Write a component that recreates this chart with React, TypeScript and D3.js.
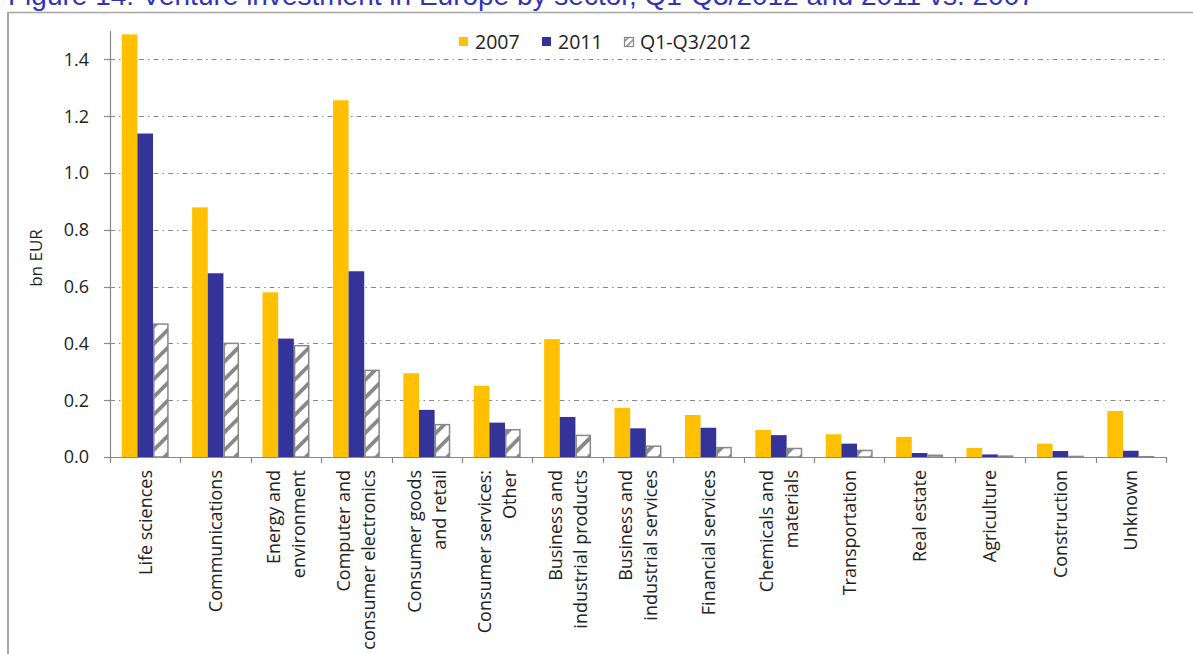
import React from "react";
import * as d3 from "d3";

const categories: string[][] = [
  ["Life sciences"],
  ["Communications"],
  ["Energy and", "environment"],
  ["Computer and", "consumer electronics"],
  ["Consumer goods", "and retail"],
  ["Consumer services:", "Other"],
  ["Business and", "industrial products"],
  ["Business and", "industrial services"],
  ["Financial services"],
  ["Chemicals and", "materials"],
  ["Transportation"],
  ["Real estate"],
  ["Agriculture"],
  ["Construction"],
  ["Unknown"],
];

const values2007 = [1.488, 0.879, 0.58, 1.256, 0.295, 0.251, 0.415, 0.173, 0.148, 0.095, 0.08, 0.071, 0.032, 0.047, 0.162];
const values2011 = [1.139, 0.647, 0.417, 0.654, 0.166, 0.121, 0.141, 0.101, 0.103, 0.077, 0.047, 0.014, 0.009, 0.021, 0.022];
const values2012 = [0.468, 0.4, 0.392, 0.305, 0.114, 0.096, 0.076, 0.038, 0.033, 0.03, 0.023, 0.006, 0.003, 0.002, 0.001];

const seriesNames = ["2007", "2011", "Q1-Q3/2012"];
const yTicks = [0, 0.2, 0.4, 0.6, 0.8, 1.0, 1.2, 1.4];
const yLabel = "bn EUR";
const title = "Figure 14: Venture investment in Europe by sector, Q1-Q3/2012 and 2011 vs. 2007";

const W = 1193;
const H = 654;
const left = 110;
const right = 1166;
const top = 31;
const bottom = 457;
const FONT = "'Open Sans', sans-serif";
const YELLOW = "#FFC000";
const BLUE = "#333399";
const GRAY = "#888888";

export default function App() {
  const x = d3.scaleBand<number>().domain(d3.range(categories.length)).range([left, right]).padding(0);
  const y = d3.scaleLinear().domain([0, 1.5]).range([bottom, top]);
  const bw = x.bandwidth() / 4.5;
  const series = [values2007, values2011, values2012];
  const fills = [YELLOW, BLUE, "url(#hatch)"];

  return (
    <svg width={W} height={H} style={{ position: "absolute", left: 0, top: 0, display: "block", background: "#fff" }}>
      <defs>
        <pattern id="hatch" patternUnits="userSpaceOnUse" width={12.5} height={12.5} patternTransform="rotate(45)">
          <rect width={12.5} height={12.5} fill="#fff" />
          <rect x={0} y={0} width={3.8} height={12.5} fill={GRAY} />
        </pattern>
        <pattern id="hatchSmall" patternUnits="userSpaceOnUse" width={5} height={5} patternTransform="rotate(45)">
          <rect width={5} height={5} fill="#fff" />
          <rect x={0} y={0} width={1.6} height={5} fill={GRAY} />
        </pattern>
      </defs>

      <text x={8} y={5} fontFamily="'Liberation Sans', Arial, sans-serif" fontSize={28} fill="#3333B8">
        {title}
      </text>

      {/* frame */}
      <line x1={8.5} y1={12.5} x2={W} y2={12.5} stroke="#a6a6a6" strokeWidth={1.5} />
      <line x1={8} y1={12} x2={8} y2={H} stroke="#a6a6a6" strokeWidth={2} />

      {/* grid */}
      {yTicks.filter((t) => t > 0).map((t) => (
        <line key={t} x1={left} x2={right} y1={Math.round(y(t)) + 0.5} y2={Math.round(y(t)) + 0.5}
          stroke={GRAY} strokeWidth={1} strokeDasharray="5 4 1.5 4" />
      ))}

      {/* bars */}
      {series.map((vals, s) =>
        vals.map((v, i) => {
          const x0 = (x(i) as number) + (x.bandwidth() - 3 * bw) / 2 + s * bw;
          const h = bottom - y(v);
          if (s === 2) {
            return (
              <rect key={`${s}-${i}`} x={x0 + 0.75} y={y(v)} width={bw - 1.5} height={Math.max(h, 0.5)}
                fill="url(#hatch)" stroke={GRAY} strokeWidth={1.5} />
            );
          }
          return <rect key={`${s}-${i}`} x={x0} y={y(v)} width={bw} height={h} fill={fills[s]} />;
        })
      )}

      {/* y axis */}
      <line x1={left + 0.5} x2={left + 0.5} y1={top} y2={bottom} stroke={GRAY} strokeWidth={1.2} />
      {yTicks.map((t) => (
        <g key={t}>
          <line x1={left - 6} x2={left} y1={Math.round(y(t)) + 0.5} y2={Math.round(y(t)) + 0.5} stroke={GRAY} strokeWidth={1.2} />
          <text x={89} y={y(t)} dy="0.36em" textAnchor="end" fontFamily={FONT} fontSize={18} fill="#222">
            {d3.format(".1f")(t)}
          </text>
        </g>
      ))}
      <text transform={`translate(36,${(top + bottom) / 2 + 14}) rotate(-90)`} dy="0.35em" textAnchor="middle"
        fontFamily={FONT} fontSize={17} fill="#222">
        {yLabel}
      </text>

      {/* x axis */}
      <line x1={left} x2={right} y1={bottom + 0.5} y2={bottom + 0.5} stroke={GRAY} strokeWidth={1.2} />
      {d3.range(categories.length + 1).map((i) => {
        const xx = Math.round(left + i * x.bandwidth()) + 0.5;
        return <line key={i} x1={xx} x2={xx} y1={bottom} y2={bottom + 6} stroke={GRAY} strokeWidth={1.2} />;
      })}
      {categories.map((lines, i) => {
        const cx = (x(i) as number) + x.bandwidth() / 2;
        return (
          <text key={i} transform={`translate(${cx},470) rotate(-90)`} textAnchor="end" fontFamily={FONT}
            fontSize={18} fill="#222">
            {lines.map((ln, k) => (
              <tspan key={k} x={0} y={(k - (lines.length - 1) / 2) * 25} dy="0.36em">
                {ln}
              </tspan>
            ))}
          </text>
        );
      })}

      {/* legend */}
      {seriesNames.map((name, s) => {
        const lx = [459, 542, 624][s];
        return (
          <g key={name}>
            {s < 2 ? (
              <rect x={lx} y={37} width={9} height={9} fill={fills[s]} />
            ) : (
              <rect x={lx + 0.5} y={37.5} width={9} height={9} fill="url(#hatchSmall)" stroke={GRAY} strokeWidth={1.2} />
            )}
            <text x={lx + 16} y={42} dy="0.36em" fontFamily={FONT} fontSize={19.5} fill="#222">
              {name}
            </text>
          </g>
        );
      })}
    </svg>
  );
}
